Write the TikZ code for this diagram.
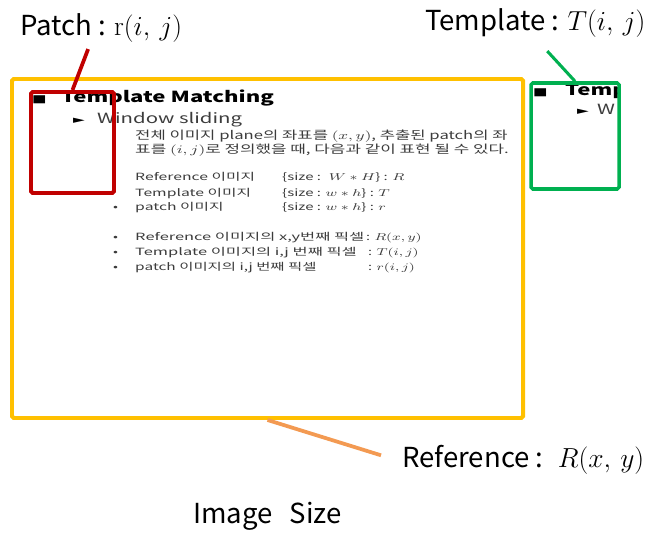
\documentclass[tikz,border=0pt]{standalone}
\usepackage{fix-cm}
\usepackage[no-math]{fontspec}
\setmainfont{Noto Sans CJK KR}
\newfontfamily\symfont{DejaVu Sans}
\usepackage{graphicx}
\usetikzlibrary{fit}

\definecolor{refcol}{HTML}{FFC000}
\definecolor{patchcol}{HTML}{C00000}
\definecolor{tmplcol}{HTML}{00B050}
\definecolor{leadcol}{HTML}{F39A52}
\definecolor{slidegray}{HTML}{3C3C3C}

\newcommand{\wide}[2][1.45]{\scalebox{#1}[1]{#2}}

\tikzset{
  boxframe/.style={draw=#1, line width=3.4pt, inner sep=0pt, rounded corners=1.5pt},
  lead/.style={draw=#1, line width=3.2pt},
  lbl/.style={inner sep=0pt, anchor=base west, font=\fontsize{23.5}{28}\selectfont},
  glyph/.style={inner sep=0pt, anchor=base west, font=\symfont\fontsize{9}{10}\selectfont},
  slidetitle/.style={inner sep=0pt, anchor=base west, font=\bfseries\fontsize{13}{15}\selectfont},
  slidehead/.style={inner sep=0pt, anchor=base west, text=slidegray, font=\fontsize{12}{14}\selectfont},
  slide/.style={inner sep=0pt, anchor=base west, text=slidegray, font=\fontsize{8.5}{10}\selectfont},
  slideintro/.style={slide, font=\fontsize{9.8}{11}\selectfont},
}

\begin{document}
\begin{tikzpicture}[x=0.03cm, y=-0.03cm]
\useasboundingbox (0,0) rectangle (654,534);

\node[glyph] (sqmain) at (32,102) {\wide{■}};
\node[slidetitle] (ttlmain) at (61,102) {\wide{Template Matching}};
\node[glyph] (trimain) at (73,123) {\wide{►}};
\node[slidehead] (winmain) at (97,123) {\wide{Window sliding}};
\node[slideintro] (intro1) at (135,139) {\wide{전체 이미지 plane의 좌표를 $(x,y)$, 추출된 patch의 좌}};
\node[slideintro] (intro2) at (135,153) {\wide[1.47]{표를 $(i,j)$로 정의했을 때, 다음과 같이 표현 될 수 있다.}};
\node[slide] (nameR) at (135,180) {\wide[1.58]{Reference 이미지}};
\node[slide] (sizeR) at (282,180) {\wide[1.5]{\{size : \ $W*H$\} : $R$}};
\node[slide] (nameT) at (135,196) {\wide[1.58]{Template 이미지}};
\node[slide] (sizeT) at (282,196) {\wide[1.5]{\{size : $w*h$\} : $T$}};
\node[slide] (dotr) at (113,210) {\wide{•}};
\node[slide] (namer) at (135,210) {\wide[1.58]{patch 이미지}};
\node[slide] (sizer) at (282,210) {\wide[1.5]{\{size : $w*h$\} : $r$}};
\node[slide] (dotR) at (113,240) {\wide{•}};
\node[slide] (pixR) at (135,240) {\wide[1.65]{Reference 이미지의 x,y번째 픽셀}};
\node[slide] (valR) at (366,240) {\wide{: $R(x,y)$}};
\node[slide] (dotT) at (113,255) {\wide{•}};
\node[slide] (pixT) at (135,255) {\wide[1.65]{Template 이미지의 i,j 번째 픽셀}};
\node[slide] (valT) at (368,255) {\wide{: $T(i,j)$}};
\node[slide] (dotp) at (113,270) {\wide{•}};
\node[slide] (pixp) at (135,270) {\wide[1.55]{patch 이미지의 i,j 번째 픽셀}};
\node[slide] (valp) at (368,270) {\wide{: $r(i,j)$}};

\begin{scope}
  \clip (531,83) rectangle (619,189);
  \node[glyph] (sqtmpl) at (533,95) {\wide{■}};
  \node[slidetitle] (ttltmpl) at (565,95) {\wide{Temp}};
  \node[glyph] (tritmpl) at (577,114) {\wide{►}};
  \node[slidehead] (wintmpl) at (597,114) {\wide{W}};
\end{scope}

\node[boxframe=refcol, fit={(12,79) (523,418)}] (ref) {};
\node[boxframe=patchcol, fit={(31,92) (114,193)}] (patch) {};
\node[boxframe=tmplcol, line width=3pt, fit={(531,83) (619,189)}] (tmpl) {};

\node[lbl] (patchlbl) at (20,36) {Patch : $\mathrm{r}(i,\,j)$};
\node[lbl] (tmpllbl) at (425,31) {Template : $T(i,\,j)$};
\node[lbl] (reflbl) at (402,467) {Reference : \ $R(x,\,y)$};
\node[lbl] (sizelbl) at (193,523) {Image\hspace{0.4em} Size};

\draw[lead=patchcol] ([xshift=-0.39cm, yshift=-0.18cm]patchlbl.south) -- (patch.north);
\draw[lead=tmplcol, line width=2.6pt] ([xshift=0.36cm, yshift=-0.39cm]tmpllbl.south) -- (tmpl.north);
\draw[lead=leadcol] (ref.south) -- ([xshift=-0.63cm, yshift=0.12cm]reflbl.west);
\end{tikzpicture}
\end{document}
